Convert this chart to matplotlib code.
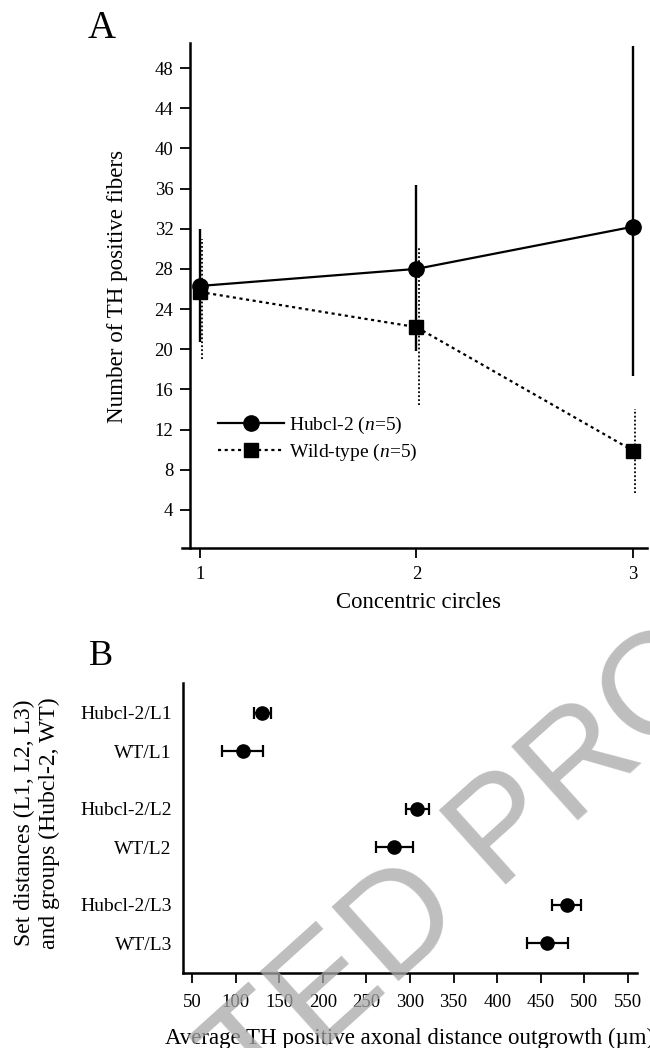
import matplotlib
matplotlib.use("Agg")
import matplotlib.pyplot as plt
import matplotlib.transforms as mtransforms
import numpy as np

plt.rcParams['font.family'] = ['Liberation Serif', 'DejaVu Serif']
plt.rcParams['mathtext.fontset'] = 'custom'
plt.rcParams['mathtext.rm'] = 'Liberation Serif'
plt.rcParams['mathtext.it'] = 'Liberation Serif:italic'

# ---------------- Panel A data ----------------
circles = [1, 2, 3]
hub_mean = [26.3, 28.0, 32.2]
hub_low = [20.7, 19.8, 17.3]
hub_high = [32.0, 36.4, 50.2]
wt_mean = [25.7, 22.2, 9.9]
wt_low = [19.0, 14.4, 5.7]
wt_high = [31.0, 30.1, 14.0]
a_yticks = [4, 8, 12, 16, 20, 24, 28, 32, 36, 40, 44, 48]
a_xticks = [1, 2, 3]
hub_label = 'Hubcl-2 ($\\it{n}$=5)'
wt_label = 'Wild-type ($\\it{n}$=5)'

# ---------------- Panel B data ----------------
b_labels = ['Hubcl-2/L1', 'WT/L1', 'Hubcl-2/L2', 'WT/L2', 'Hubcl-2/L3', 'WT/L3']
b_mean = [130.5, 108.0, 308.4, 282.0, 479.7, 457.6]
b_err = [9.7, 24.0, 13.0, 21.0, 16.7, 24.0]
b_xticks = [50, 100, 150, 200, 250, 300, 350, 400, 450, 500, 550]

watermark = 'UNCORRECTED PROOF'

W, H = 650, 1048
fig = plt.figure(figsize=(W / 100, H / 100), dpi=100)


def fx(x):
    return x / W


def fy(y):
    return 1 - y / H


def rect(l, t, r, b):
    return [fx(l), fy(b), (r - l) / W, (b - t) / H]


# ---------------- Panel A ----------------
axA = fig.add_axes(rect(190, 43, 647, 548))
axA.set_xlim(0.954, 3.065)
axA.set_ylim(0.2, 50.5)

axA.vlines(circles, hub_low, hub_high, colors='black', linewidth=1.7, zorder=2)
off = mtransforms.ScaledTranslation(2.5 / 100, 0, fig.dpi_scale_trans)
axA.vlines(circles, wt_low, wt_high, colors='black', linewidth=1.3,
           linestyles=(0, (1, 1.2)), transform=axA.transData + off, zorder=2)

axA.plot(circles, hub_mean, color='black', lw=1.6, ls='-', marker='o', ms=11,
         label=hub_label, zorder=3)
axA.plot(circles, wt_mean, color='black', lw=1.6, ls=(0, (1.4, 1.6)), marker='s', ms=10.5,
         label=wt_label, zorder=3)

axA.set_xticks(a_xticks)
axA.set_xticklabels([str(v) for v in a_xticks])
axA.set_yticks(a_yticks)
axA.set_yticklabels([str(v) for v in a_yticks])
for s in ['top', 'right']:
    axA.spines[s].set_visible(False)
for s in ['left', 'bottom']:
    axA.spines[s].set_linewidth(1.8)
axA.spines['bottom'].set_bounds(0.917, 3.065)
axA.tick_params(axis='both', direction='out', length=7, width=1.3, labelsize=13.5)
axA.tick_params(axis='x', pad=6)
axA.tick_params(axis='y', pad=5)

leg = axA.legend(loc='upper left', bbox_to_anchor=((218 - 190) / 457, (548 - 415) / 505),
                 frameon=False, fontsize=14, handlelength=3.4, handletextpad=0.25,
                 labelspacing=0.3, borderpad=0, borderaxespad=0, markerscale=1.0)

fig.text(fx(88), fy(38), 'A', fontsize=28, ha='left', va='baseline')
fig.text(fx(118), fy(286), 'Number of TH positive fibers', fontsize=16.6, rotation=90,
         ha='center', va='center')
fig.text(fx(419), fy(602), 'Concentric circles', fontsize=16.4, ha='center', va='center')

# ---------------- Panel B ----------------
axB = fig.add_axes(rect(183, 683, 637, 973))
group = np.arange(len(b_labels)) // 2
within = np.arange(len(b_labels)) % 2
pos = group * 2.5 + within
axB.errorbar(b_mean, pos, xerr=b_err, fmt='o', color='black', ms=9.5,
             capsize=4.5, elinewidth=1.6, capthick=1.6)
axB.set_xlim(39.7, 560.3)
axB.set_ylim(6.78, -0.78)
axB.set_yticks(pos)
axB.set_yticklabels(b_labels)
axB.set_xticks(b_xticks)
axB.set_xticklabels([str(v) for v in b_xticks])
for s in ['top', 'right']:
    axB.spines[s].set_visible(False)
for s in ['left', 'bottom']:
    axB.spines[s].set_linewidth(1.8)
axB.tick_params(axis='y', length=0, pad=8, labelsize=14)
axB.tick_params(axis='x', direction='out', length=7, width=1.3, pad=8, labelsize=13.5)

fig.text(fx(89), fy(665), 'B', fontsize=26, ha='left', va='baseline')
fig.text(fx(37), fy(823), 'Set distances (L1, L2, L3)\nand groups (Hubcl-2, WT)',
         fontsize=17, rotation=90, ha='center', va='center', linespacing=1.2,
         multialignment='center')
fig.text(fx(410), fy(1038), 'Average TH positive axonal distance outgrowth (\u00b5m)',
         fontsize=16.5, ha='center', va='center')

# ---------------- watermark (diagonal, partly outside the page) ----------------
wm_size = 104
wm_rot = 42.0
em = wm_size * 100 / 72
renderer = fig.canvas.get_renderer()
tmp = fig.text(0, 0, watermark.split(' ')[0], fontsize=wm_size,
               family=['Liberation Sans', 'DejaVu Sans'])
prefix_w = tmp.get_window_extent(renderer).width + 0.278 * em
tmp.remove()
th = np.deg2rad(wm_rot)
# anchor: foot of the P stem in image px
px0, py0 = 512.0, 880.0
d = prefix_w + 0.13 * em
xs = px0 - d * np.cos(th)
ys = py0 + d * np.sin(th)
fig.text(fx(xs), fy(ys), watermark, fontsize=wm_size, rotation=wm_rot,
         rotation_mode='anchor', ha='left', va='baseline',
         family=['Liberation Sans', 'DejaVu Sans'], color='#a8a8a8', alpha=0.75,
         zorder=10)

fig.savefig('out.png', dpi=100)
